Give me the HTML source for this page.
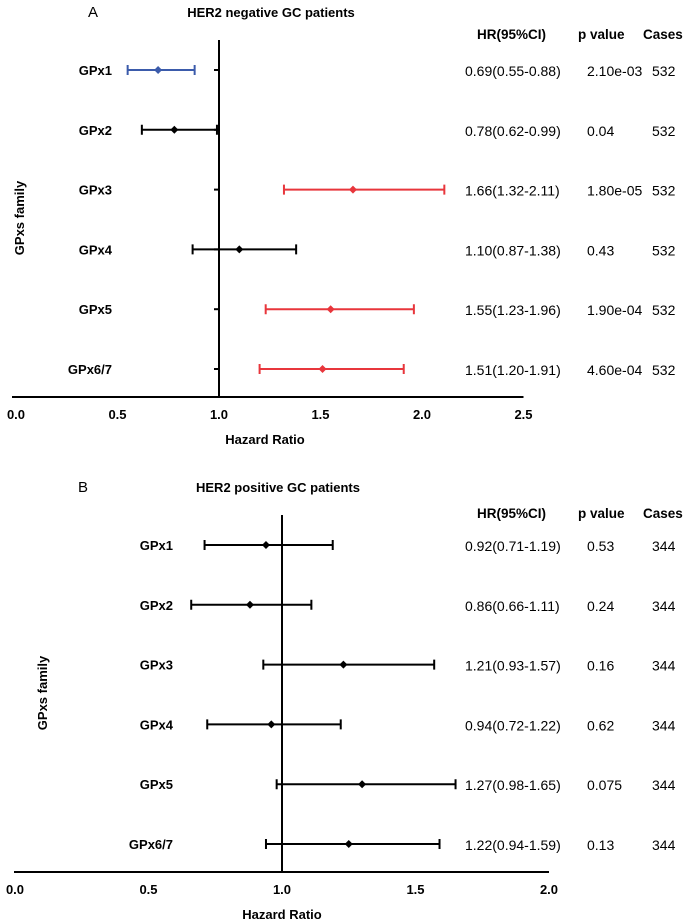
<!DOCTYPE html>
<html><head><meta charset="utf-8"><style>
body{margin:0;background:#fff;}
svg{display:block;font-family:"Liberation Sans",Arial,sans-serif;}
.lab{font-weight:bold;font-size:13px;}
.hdr{font-weight:bold;font-size:13.5px;}
.tbl{font-size:14px;}
</style></head><body>
<svg id="chart" width="685" height="923" viewBox="0 0 685 923"></svg>
<script>
const genes = ["GPx1","GPx2","GPx3","GPx4","GPx5","GPx6/7"];
const hrA = [0.70,0.78,1.66,1.10,1.55,1.51];
const loA = [0.55,0.62,1.32,0.87,1.23,1.20];
const hiA = [0.88,0.99,2.11,1.38,1.96,1.91];
const colA = ["#3b5bab","#000","#e8363c","#000","#e8363c","#e8363c"];
const hrTextA = ["0.69(0.55-0.88)","0.78(0.62-0.99)","1.66(1.32-2.11)","1.10(0.87-1.38)","1.55(1.23-1.96)","1.51(1.20-1.91)"];
const pA = ["2.10e-03","0.04","1.80e-05","0.43","1.90e-04","4.60e-04"];
const casesA = ["532","532","532","532","532","532"];
const hrB = [0.94,0.88,1.23,0.96,1.30,1.25];
const loB = [0.71,0.66,0.93,0.72,0.98,0.94];
const hiB = [1.19,1.11,1.57,1.22,1.65,1.59];
const hrTextB = ["0.92(0.71-1.19)","0.86(0.66-1.11)","1.21(0.93-1.57)","0.94(0.72-1.22)","1.27(0.98-1.65)","1.22(0.94-1.59)"];
const pB = ["0.53","0.24","0.16","0.62","0.075","0.13"];
const casesB = ["344","344","344","344","344","344"];
const ticksA = [0,0.5,1.0,1.5,2.0,2.5];
const ticksB = [0,0.5,1.0,1.5,2.0];

const svg = document.getElementById('chart');
const NS = "http://www.w3.org/2000/svg";
function mk(tag, attrs, txt){const e=document.createElementNS(NS,tag);for(const k in attrs)e.setAttribute(k,attrs[k]);if(txt!==undefined)e.textContent=txt;svg.appendChild(e);return e;}

function panel(cfg){
  const X = v => cfg.x0 + v*cfg.scale;
  const Y = i => cfg.row0 + i*59.8;
  let e;
  e=mk('text',{x:cfg.letterX,y:cfg.titleY+5,'font-size':'15px'},cfg.letter);
  
  
  e=mk('text',{x:cfg.titleX,y:cfg.titleY+5,'class':'lab','text-anchor':'middle'},cfg.title);
  
  
  [["HR(95%CI)",477],["p value",578],["Cases",643]].forEach(h=>{
    e=mk('text',{x:h[1],y:cfg.headY+5,'class':'hdr'},h[0]);
    
    
  });
  e=mk('line',{x1:cfg.axStart,x2:X(cfg.ticks[cfg.ticks.length-1]),y1:cfg.axisY,y2:cfg.axisY,stroke:'#000','stroke-width':2});
  
  
  e=mk('line',{x1:X(1),x2:X(1),y1:cfg.vTop,y2:cfg.axisY,stroke:'#000','stroke-width':2});
  
  
  cfg.ticks.forEach(t=>{
    e=mk('text',{x:X(t),y:cfg.axisY+22,'class':'lab','text-anchor':'middle'},t.toFixed(1));
    
    
  });
  e=mk('text',{x:cfg.xTitleX,y:cfg.axisY+47,'class':'lab','text-anchor':'middle'},'Hazard Ratio');
  
  
  e=mk('text',{x:cfg.yTitleX,y:cfg.yTitleY,'class':'lab','text-anchor':'middle',transform:`rotate(-90 ${cfg.yTitleX} ${cfg.yTitleY})`},'GPxs family');
  
  
  genes.forEach((g,i)=>{
    const y=Y(i), c=cfg.col[i];
    e=mk('text',{x:cfg.labelRight,y:y+5,'class':'lab','text-anchor':'end'},g);
    
    
    if(cfg.stub){e=mk('line',{x1:X(1)-5,x2:X(1),y1:y,y2:y,stroke:'#000','stroke-width':2});
      
      }
    const x1=X(cfg.lo[i]),x2=X(cfg.hi[i]);
    e=mk('path',{d:`M${x1},${y}H${x2}M${x1},${y-5}V${y+5}M${x2},${y-5}V${y+5}`,stroke:c,'stroke-width':2,fill:'none'});
    
    
    const px=X(cfg.hr[i]);
    e=mk('path',{d:`M${px-4},${y}L${px},${y-4}L${px+4},${y}L${px},${y+4}Z`,fill:c});
    
    
    e=mk('text',{x:465,y:y+6,'class':'tbl'},cfg.hrText[i]);
    
    
    e=mk('text',{x:587,y:y+6,'class':'tbl'},cfg.p[i]);
    
    
    e=mk('text',{x:652,y:y+6,'class':'tbl'},cfg.cases[i]);
    
    
  });
}
panel({x0:16,scale:203,row0:70,axisY:397,vTop:40,axStart:12,ticks:ticksA,letter:'A',letterX:88,title:'HER2 negative GC patients',titleX:271,titleY:12,headY:34,
  xTitleX:265,yTitleX:24,yTitleY:218,labelRight:112,stub:true,hr:hrA,lo:loA,hi:hiA,col:colA,hrText:hrTextA,p:pA,cases:casesA});
panel({x0:15,scale:267,row0:545,axisY:872,vTop:515,axStart:14,ticks:ticksB,letter:'B',letterX:78,title:'HER2 positive GC patients',titleX:278,titleY:487,headY:513,
  xTitleX:282,yTitleX:47,yTitleY:693,labelRight:173,stub:false,hr:hrB,lo:loB,hi:hiB,col:genes.map(()=>"#000"),hrText:hrTextB,p:pB,cases:casesB});
</script>
</body></html>
